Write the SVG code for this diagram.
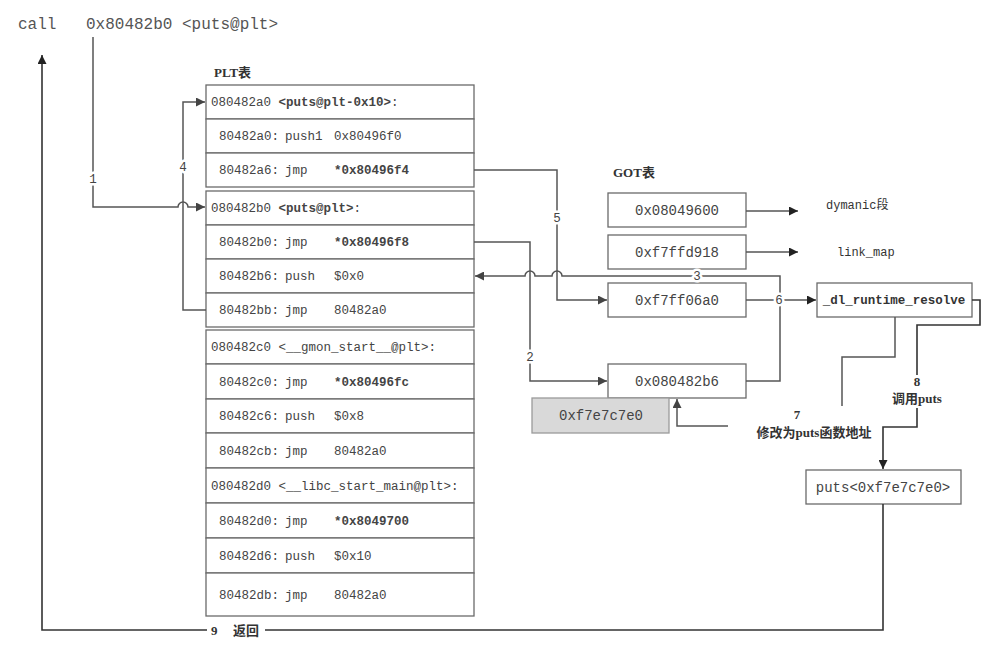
<svg xmlns="http://www.w3.org/2000/svg" width="1000" height="664" viewBox="0 0 1000 664">
<defs>
<style>
.bg{fill:#ffffff}
.cell{fill:#ffffff;stroke:#6a6a6a;stroke-width:1.3}
.gray{fill:#d9d9d9;stroke:#9a9a9a;stroke-width:1.3}
.code{font-family:"Liberation Mono","Noto Sans CJK SC",monospace;font-size:12.5px;fill:#444}
.b{font-weight:bold}
.got{font-family:"Liberation Mono","Noto Sans CJK SC",monospace;font-size:14px;fill:#444}
.top{font-family:"Liberation Mono","Noto Sans CJK SC",monospace;font-size:16px;fill:#555}
.title{font-family:"Liberation Serif","Noto Sans CJK SC",serif;font-size:13px;font-weight:bold;fill:#333}
.lbl{font-family:"Liberation Mono","Noto Sans CJK SC",monospace;font-size:12.5px;fill:#444;paint-order:stroke;stroke:#fff;stroke-width:5px;stroke-linejoin:round}
.note{font-family:"Liberation Serif","Noto Sans CJK SC",serif;font-size:13px;font-weight:bold;fill:#333}
.side{font-family:"Liberation Mono","Noto Sans CJK SC",monospace;font-size:12px;fill:#333}
.ln{fill:none;stroke:#555;stroke-width:1.5}
.ln2{fill:none;stroke:#333;stroke-width:1.6}
</style>
<marker id="ah" viewBox="0 0 10 10" refX="10" refY="5" markerUnits="userSpaceOnUse" markerWidth="11" markerHeight="9" orient="auto"><path d="M0,0 L10,5 L0,10 z" fill="#444"/></marker>
<marker id="ahk" viewBox="0 0 10 10" refX="10" refY="5" markerUnits="userSpaceOnUse" markerWidth="11" markerHeight="9" orient="auto"><path d="M0,0 L10,5 L0,10 z" fill="#222"/></marker>
</defs>
<rect class="bg" x="0" y="0" width="1000" height="664"/>

<g id="call-line">
<text class="top" x="18" y="29">call</text>
<text class="top" x="86" y="29">0x80482b0 &lt;puts@plt&gt;</text>
</g>

<text class="title" x="214" y="77">PLT表</text>
<text class="title" x="613" y="177">GOT表</text>

<g id="plt-block1">
<rect class="cell" x="206" y="85" width="268" height="34"/>
<rect class="cell" x="206" y="119" width="268" height="34"/>
<rect class="cell" x="206" y="153" width="268" height="34"/>
<text class="code" x="211" y="106">080482a0 <tspan class="b">&lt;puts@plt-0x10&gt;</tspan>:</text>
<text class="code" x="219" y="140">80482a0:<tspan x="285">push1</tspan><tspan x="334">0x80496f0</tspan></text>
<text class="code" x="219" y="174">80482a6:<tspan x="285">jmp</tspan><tspan x="334" class="b">*0x80496f4</tspan></text>
</g>

<g id="plt-block2">
<rect class="cell" x="206" y="191" width="268" height="34"/>
<rect class="cell" x="206" y="225" width="268" height="34"/>
<rect class="cell" x="206" y="259" width="268" height="34"/>
<rect class="cell" x="206" y="293" width="268" height="34"/>
<text class="code" x="211" y="212">080482b0 <tspan class="b">&lt;puts@plt&gt;</tspan>:</text>
<text class="code" x="219" y="246">80482b0:<tspan x="285">jmp</tspan><tspan x="334" class="b">*0x80496f8</tspan></text>
<text class="code" x="219" y="280">80482b6:<tspan x="285">push</tspan><tspan x="334">$0x0</tspan></text>
<text class="code" x="219" y="314">80482bb:<tspan x="285">jmp</tspan><tspan x="334">80482a0</tspan></text>
</g>

<g id="plt-block3">
<rect class="cell" x="206" y="330" width="268" height="34"/>
<rect class="cell" x="206" y="364" width="268" height="35"/>
<rect class="cell" x="206" y="399" width="268" height="34"/>
<rect class="cell" x="206" y="433" width="268" height="35"/>
<text class="code" x="211" y="351">080482c0 &lt;__gmon_start__@plt&gt;:</text>
<text class="code" x="219" y="386">80482c0:<tspan x="285">jmp</tspan><tspan x="334" class="b">*0x80496fc</tspan></text>
<text class="code" x="219" y="420">80482c6:<tspan x="285">push</tspan><tspan x="334">$0x8</tspan></text>
<text class="code" x="219" y="455">80482cb:<tspan x="285">jmp</tspan><tspan x="334">80482a0</tspan></text>
</g>

<g id="plt-block4">
<rect class="cell" x="206" y="468" width="268" height="35"/>
<rect class="cell" x="206" y="503" width="268" height="35"/>
<rect class="cell" x="206" y="538" width="268" height="35"/>
<rect class="cell" x="206" y="573" width="268" height="43"/>
<text class="code" x="211" y="490">080482d0 &lt;__libc_start_main@plt&gt;:</text>
<text class="code" x="219" y="525">80482d0:<tspan x="285">jmp</tspan><tspan x="334" class="b">*0x8049700</tspan></text>
<text class="code" x="219" y="560">80482d6:<tspan x="285">push</tspan><tspan x="334">$0x10</tspan></text>
<text class="code" x="219" y="599">80482db:<tspan x="285">jmp</tspan><tspan x="334">80482a0</tspan></text>
</g>

<g id="got-0">
<rect class="cell" x="608" y="193" width="138" height="34"/>
<text class="got" x="677" y="215" text-anchor="middle">0x08049600</text>
</g>
<g id="got-1">
<rect class="cell" x="608" y="235" width="138" height="34"/>
<text class="got" x="677" y="257" text-anchor="middle">0xf7ffd918</text>
</g>
<g id="got-2">
<rect class="cell" x="608" y="283" width="138" height="34"/>
<text class="got" x="677" y="305" text-anchor="middle">0xf7ff06a0</text>
</g>
<g id="got-3">
<rect class="cell" x="608" y="364" width="138" height="34"/>
<text class="got" x="677" y="386" text-anchor="middle">0x080482b6</text>
</g>
<g id="got-new">
<rect class="gray" x="532" y="398" width="137" height="35"/>
<text class="got" x="601" y="420" text-anchor="middle">0xf7e7c7e0</text>
</g>

<g id="dynamic">
<text class="side" x="826" y="209">dymanic段</text>
</g>
<g id="linkmap">
<text class="side" x="837" y="256">link_map</text>
</g>

<g id="dl-resolve">
<rect class="cell" x="817" y="283" width="155" height="34"/>
<text class="code b" x="894" y="304" text-anchor="middle" style="fill:#333">_dl_runtime_resolve</text>
</g>

<g id="puts">
<rect class="cell" x="806" y="470" width="155" height="34"/>
<text class="got" x="883" y="492" text-anchor="middle">puts&lt;0xf7e7c7e0&gt;</text>
</g>

<g id="connectors">
<path class="ln2" d="M883,504 V630 H265"/>
<path class="ln2" d="M207,630 H42 V55" marker-end="url(#ahk)"/>
<text class="note" x="211" y="635">9</text>
<text class="note" x="233" y="635">返回</text>

<path class="ln" d="M93,37 V207 H178 a5,5 0 0 1 10,0 H205" marker-end="url(#ah)"/>
<text class="lbl" x="93" y="183" text-anchor="middle">1</text>

<path class="ln" d="M206,310 H183 V102 H205" marker-end="url(#ah)"/>
<text class="lbl" x="183" y="171" text-anchor="middle">4</text>

<path class="ln" d="M746,381 H780 V276 H562 a5,5 0 0 0 -10,0 H535 a5,5 0 0 0 -10,0 H475" marker-end="url(#ah)"/>
<text class="lbl" x="697" y="280" text-anchor="middle">3</text>

<path class="ln" d="M474,170 H557 V300 H607" marker-end="url(#ah)"/>
<text class="lbl" x="557" y="222" text-anchor="middle">5</text>

<path class="ln" d="M474,242 H530 V381 H607" marker-end="url(#ah)"/>
<text class="lbl" x="530" y="361" text-anchor="middle">2</text>

<path class="ln" d="M746,300 H816" marker-end="url(#ahk)"/>
<text class="lbl" x="779" y="304" text-anchor="middle">6</text>

<path class="ln" d="M746,211 H798" marker-end="url(#ahk)"/>
<path class="ln" d="M746,252 H798" marker-end="url(#ahk)"/>

<path class="ln" d="M895,317 V357 H842 V406"/>
<path class="ln" d="M728,426 H677 V399" marker-end="url(#ah)"/>
<text class="note" x="797" y="419" text-anchor="middle">7</text>
<text class="note" x="814" y="437" text-anchor="middle">修改为puts函数地址</text>

<path class="ln2" d="M972,300 H980 V325 H917 V375"/>
<path class="ln2" d="M917,408 V427 H883 V469" marker-end="url(#ahk)"/>
<text class="note" x="917" y="386" text-anchor="middle">8</text>
<text class="note" x="917" y="403" text-anchor="middle">调用puts</text>
</g>
</svg>
